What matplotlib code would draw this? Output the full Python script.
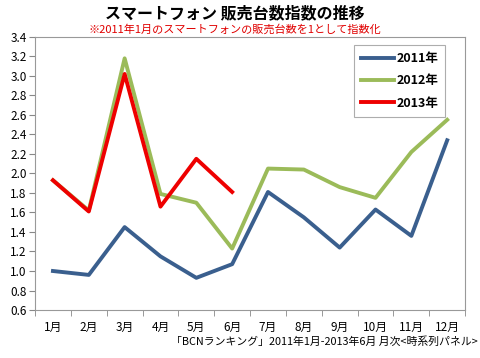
import matplotlib
matplotlib.use("Agg")
import matplotlib.pyplot as plt
import numpy as np

plt.rcParams['font.family'] = ['Noto Sans CJK JP', 'DejaVu Sans']

months = ['1月', '2月', '3月', '4月', '5月', '6月', '7月', '8月', '9月', '10月', '11月', '12月']
sales_2011 = [1.00, 0.96, 1.45, 1.15, 0.93, 1.07, 1.81, 1.55, 1.24, 1.63, 1.36, 2.34]
sales_2012 = [1.93, 1.62, 3.18, 1.79, 1.70, 1.23, 2.05, 2.04, 1.86, 1.75, 2.22, 2.55]
sales_2013 = [1.93, 1.61, 3.02, 1.66, 2.15, 1.81]
yticks = [0.6, 0.8, 1.0, 1.2, 1.4, 1.6, 1.8, 2.0, 2.2, 2.4, 2.6, 2.8, 3.0, 3.2, 3.4]

fig = plt.figure(figsize=(4.8, 3.58), dpi=100)
ax = fig.add_axes([0.073, 0.134, 0.896, 0.763])

x = np.arange(len(months))
ax.plot(x, sales_2011, color='#3A5F8E', lw=2.8, label='2011年')
ax.plot(x, sales_2012, color='#9BBB59', lw=2.8, label='2012年')
ax.plot(x[:len(sales_2013)], sales_2013, color='#EE0000', lw=2.8, label='2013年')

ax.set_xlim(-0.5, len(months) - 0.5)
ax.set_ylim(0.6, 3.4)
ax.set_yticks(yticks)
ax.set_yticklabels([f'{v:.1f}' for v in yticks], fontsize=8.5)
ax.set_xticks(x)
ax.set_xticklabels(months, fontsize=8.5)
ax.set_xticks(np.arange(len(months) + 1) - 0.5, minor=True)
ax.tick_params(axis='x', which='major', length=0, pad=8)
ax.tick_params(axis='x', which='minor', length=4, color='#888888')
ax.tick_params(axis='y', length=4, color='#888888', pad=2)

for s in ax.spines.values():
    s.set_color('#999999')
    s.set_linewidth(0.8)

leg = ax.legend(loc='upper right', bbox_to_anchor=(0.953, 0.97),
                prop={'weight': 'bold', 'size': 9}, handlelength=2.6,
                fancybox=False, edgecolor='#999999', borderpad=0.55,
                labelspacing=0.75, handletextpad=0.2, borderaxespad=0)
leg.get_frame().set_linewidth(0.8)

fig.text(0.49, 0.963, 'スマートフォン 販売台数指数の推移', ha='center', va='center',
         fontsize=11.5, fontweight='bold')
fig.text(0.49, 0.918, '※2011年1月のスマートフォンの販売台数を1として指数化', ha='center',
         va='center', fontsize=8, color='#E00000')
fig.text(0.995, 0.047, '「BCNランキング」2011年1月-2013年6月 月次<時系列パネル>', ha='right',
         va='center', fontsize=7.8)

fig.savefig('out.png', dpi=100)
